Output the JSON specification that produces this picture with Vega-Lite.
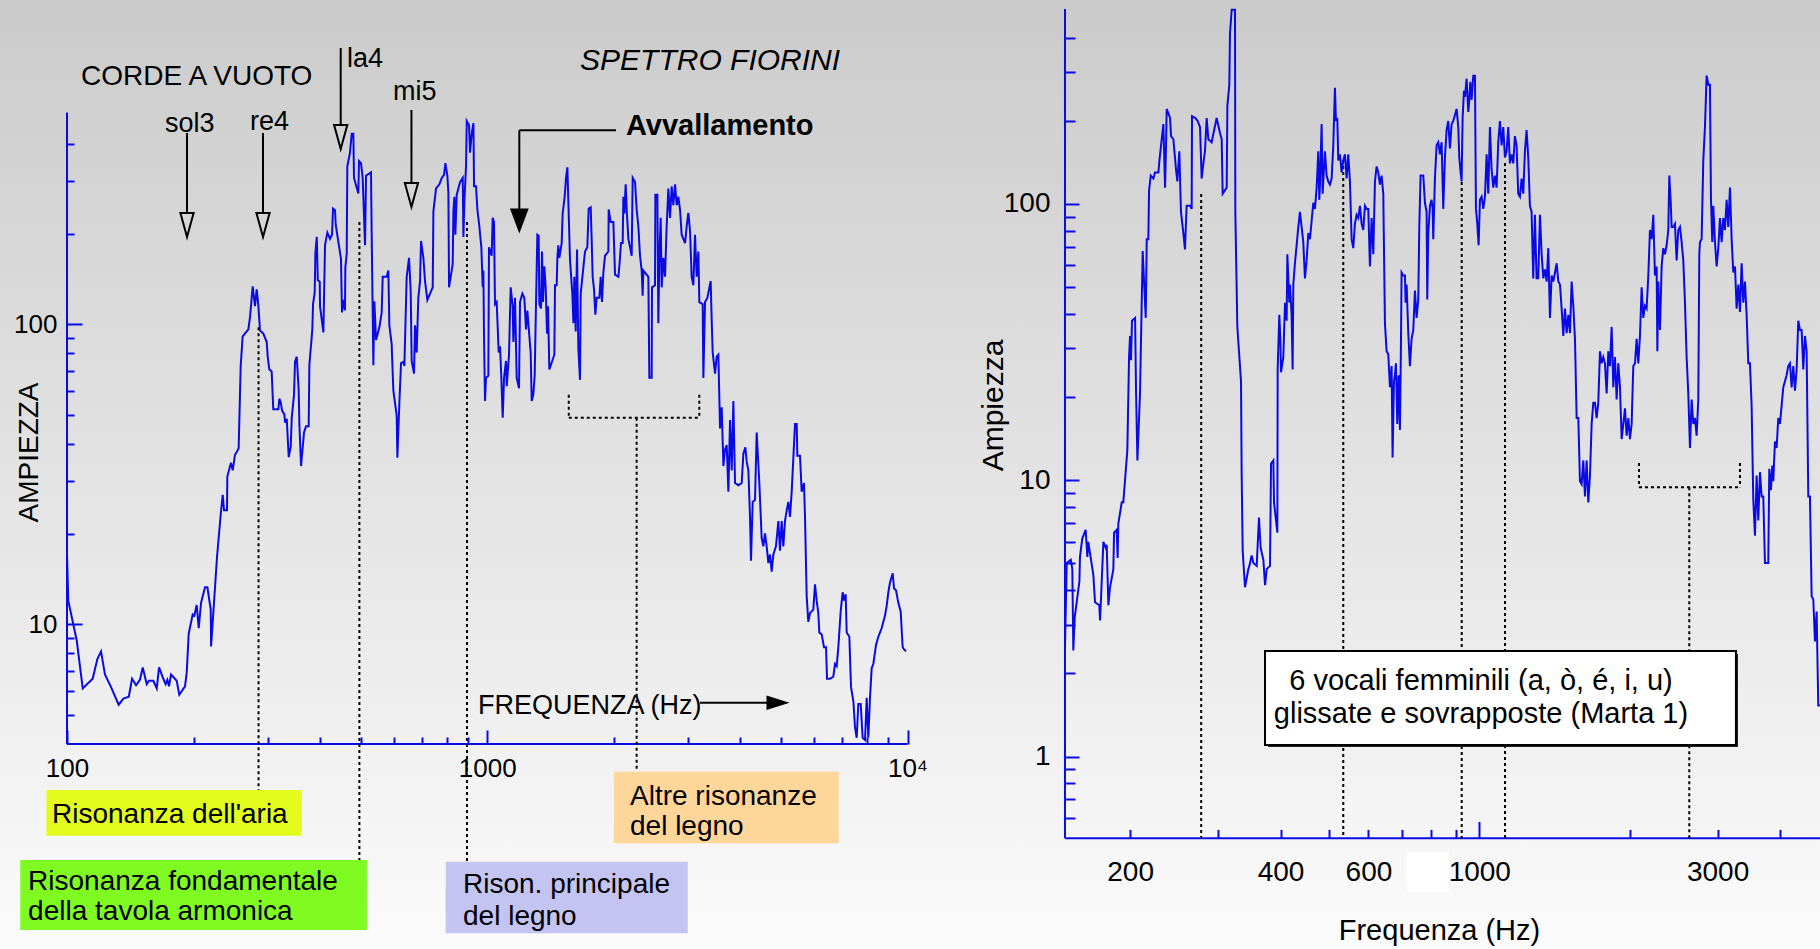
{
  "$schema": "https://vega.github.io/schema/vega-lite/v6.json",
  "width": 1820,
  "height": 949,
  "autosize": {"type": "none"},
  "padding": 0,
  "background": "#f4f4f4",
  "view": {"stroke": null, "fill": {"gradient": "linear", "x1": 0, "y1": 0, "x2": 0, "y2": 1, "stops": [{"offset": 0, "color": "#cbcbcb"}, {"offset": 1, "color": "#fbfbfb"}]}},
  "config": {"view": {"stroke": null}, "font": "Liberation Sans"},
  "datasets": {
    "L": [
      {"f":100,"a":17.1},{"f":100.7,"a":12.0},{"f":105.5,"a":8.82},{"f":109,"a":6.12},{"f":115.1,"a":6.59},{"f":118.1,"a":7.67},{"f":120.5,"a":8.13},{"f":123.1,"a":6.81},{"f":127.3,"a":6.18},{"f":132.7,"a":5.40},{"f":136.2,"a":5.66},{"f":140.3,"a":5.74},{"f":142.8,"a":6.59},{"f":146,"a":6.27},{"f":149.2,"a":6.55},{"f":151.4,"a":7.19},{"f":154.8,"a":6.32},{"f":156.7,"a":6.49},{"f":160.5,"a":6.49},{"f":163.5,"a":6.12},{"f":165.6,"a":7.19},{"f":169.5,"a":6.59},{"f":171.7,"a":6.32},{"f":173.3,"a":6.53},{"f":174.9,"a":6.22},{"f":176.8,"a":6.81},{"f":182.4,"a":6.49},{"f":185,"a":5.83},{"f":190.9,"a":6.22},{"f":192.7,"a":6.92},{"f":194.8,"a":9.31},{"f":199.1,"a":10.8},{"f":200.9,"a":10.7},{"f":203.5,"a":11.6},{"f":205.8,"a":9.71},{"f":208.4,"a":11.8},{"f":213,"a":13.3},{"f":215.8,"a":13.3},{"f":219.8,"a":11.2},{"f":220.2,"a":8.45},{"f":222.9,"a":10.9},{"f":227.5,"a":16.8},{"f":232.1,"a":23.2},{"f":234.7,"a":27.0},{"f":236.4,"a":24.0},{"f":240.3,"a":24.0},{"f":240.7,"a":31.1},{"f":245.6,"a":34.6},{"f":247.9,"a":32.6},{"f":251,"a":36.7},{"f":256.1,"a":38.6},{"f":259,"a":72.6},{"f":261.8,"a":91.1},{"f":270.1,"a":96.2},{"f":272.6,"a":105.9},{"f":276.6,"a":133.7},{"f":280.1,"a":114.9},{"f":282.7,"a":130.7},{"f":285.3,"a":115.6},{"f":287.9,"a":95.3},{"f":293.2,"a":93.1},{"f":298.7,"a":87.3},{"f":300.3,"a":78.0},{"f":302.9,"a":70.8},{"f":306.9,"a":69.6},{"f":309.6,"a":52.1},{"f":318.4,"a":52.1},{"f":320.1,"a":56.5},{"f":322.5,"a":55.0},{"f":324.9,"a":51.6},{"f":329,"a":50.1},{"f":330.3,"a":47.0},{"f":333.3,"a":48.4},{"f":337,"a":36.1},{"f":340.7,"a":39.2},{"f":342.6,"a":48.8},{"f":346.9,"a":58.3},{"f":348.8,"a":75.0},{"f":352.1,"a":78.0},{"f":355.9,"a":60.2},{"f":357.2,"a":46.5},{"f":360.5,"a":33.7},{"f":366.4,"a":43.6},{"f":370.5,"a":45.7},{"f":375.9,"a":45.7},{"f":377.3,"a":73.1},{"f":383.5,"a":96.2},{"f":385,"a":116.8},{"f":388.5,"a":127.4},{"f":389.9,"a":172},{"f":392.9,"a":195.7},{"f":395.1,"a":140.4},{"f":399.4,"a":138.6},{"f":400,"a":114.9},{"f":407.4,"a":94.0},{"f":411.1,"a":183.5},{"f":416.4,"a":202.1},{"f":422.5,"a":192.6},{"f":427.2,"a":198.9},{"f":429.5,"a":243},{"f":434.2,"a":239.9},{"f":435.8,"a":215.6},{"f":448.7,"a":164.9},{"f":451.2,"a":109.5},{"f":454.5,"a":120.6},{"f":458.6,"a":111.3},{"f":459.5,"a":154.6},{"f":463,"a":172},{"f":464.5,"a":335.7},{"f":471.4,"a":373.4},{"f":475.8,"a":431.5},{"f":480.1,"a":431.5},{"f":481.9,"a":307.5},{"f":493.4,"a":273.1},
      {"f":495.3,"a":350.0},{"f":500.7,"a":344.2},{"f":505.3,"a":307.5},{"f":511.9,"a":183.4},{"f":514.7,"a":312.5},{"f":528.9,"a":320.8},{"f":530.9,"a":198.8},{"f":535.8,"a":73.1},{"f":538.7,"a":119.4},{"f":543.7,"a":88.7},{"f":553.7,"a":97.7},{"f":560.8,"a":109.4},{"f":563.9,"a":144.0},{"f":576.3,"a":144.0},{"f":581.6,"a":151.1},{"f":584.8,"a":99.3},{"f":592.3,"a":85.9},{"f":594.5,"a":74.2},{"f":597.8,"a":60.2},{"f":608.8,"a":49.6},{"f":611.1,"a":35.9},{"f":617.8,"a":54.7},{"f":623.5,"a":74.2},{"f":631.5,"a":75.0},{"f":635,"a":72.6},{"f":643.1,"a":144.0},{"f":651.4,"a":166.5},{"f":657.4,"a":128.6},{"f":660.9,"a":75.5},{"f":669.5,"a":68.5},{"f":673.2,"a":99.3},{"f":679.3,"a":80.5},{"f":685.5,"a":122.5},{"f":691.9,"a":139.3},{"f":695.7,"a":189.5},{"f":704.7,"a":166.5},{"f":711.1,"a":139.3},{"f":720.2,"a":120.6},{"f":741.7,"a":132.8},{"f":744.4,"a":237.4},{"f":755.3,"a":283.6},{"f":769.3,"a":292.8},{"f":779.2,"a":307.5},{"f":789.2,"a":314.6},{"f":794.9,"a":344.2},{"f":803.7,"a":312.5},{"f":808.2,"a":274.6},{"f":811.1,"a":132.8},{"f":827.5,"a":158.6},{"f":830.6,"a":237.4},{"f":835.2,"a":266.0},{"f":839.7,"a":198.8},{"f":846,"a":270.2},{"f":861.5,"a":297.7},{"f":874.3,"a":307.5},{"f":877.5,"a":195.6},{"f":882.3,"a":257.5},{"f":890.4,"a":338.9},{"f":893.7,"a":475.5},{"f":905,"a":460.4},{"f":909.9,"a":373.2},{"f":918.3,"a":431.6},{"f":927,"a":467.9},{"f":930.2,"a":288.3},{"f":940.3,"a":288.3},{"f":947.3,"a":241.3},{"f":957.6,"a":212.2},{"f":968.2,"a":180.5},{"f":975.4,"a":132.8},{"f":979,"a":151.1},{"f":982.4,"a":91.6},{"f":987.7,"a":55.5},{"f":993.2,"a":66.3},{"f":1006,"a":67.4},{"f":1009.5,"a":180.5},{"f":1024.5,"a":169.2},{"f":1030.2,"a":226.3},{"f":1037.6,"a":219.1},{"f":1043.4,"a":116.7},{"f":1053,"a":118.6},{"f":1064.7,"a":80.5},{"f":1072.4,"a":84.5},{"f":1078.4,"a":70.7},{"f":1088.4,"a":48.8},{"f":1096.3,"a":66.3},{"f":1108.2,"a":75.5},{"f":1112.6,"a":62.2},{"f":1126.6,"a":79.2},{"f":1136.9,"a":132.8},{"f":1149.6,"a":114.9},{"f":1153.8,"a":87.3},{"f":1164.3,"a":122.5},{"f":1175,"a":66.3},{"f":1190,"a":61.2},{"f":1196.6,"a":118.6},{"f":1212.1,"a":126.5},{"f":1225.3,"a":122.5},{"f":1236.6,"a":96.1},{"f":1245.7,"a":111.2},{"f":1254.7,"a":97.7},{"f":1268.6,"a":80.5},{"f":1275.7,"a":55.5},{"f":1287.1,"a":58.3},{"f":1296.7,"a":67.4},{"f":1303.9,"a":102.6},{"f":1315.9,"a":198.8},{"f":1325.4,"a":197.4},{"f":1330.3,"a":116.7},{"f":1342.6,"a":113.0},{"f":1350,"a":174.8},{"f":1357.2,"a":118.6},{"f":1367.2,"a":156.1},{"f":1377.3,"a":132.8},{"f":1387.5,"a":93.1},{"f":1394.9,"a":114.9},{"f":1405.3,"a":70.7},{"f":1444.2,"a":79.2},{"f":1449.5,"a":135.0},{"f":1463,"a":135.0},{"f":1468.3,"a":166.5},{"f":1476.1,"a":183.4},{"f":1484.3,"a":166.5},{"f":1503.5,"a":186.5},{"f":1511.5,"a":233.7},{"f":1528.3,"a":266.0},{"f":1539.6,"a":307.5},{"f":1551.1,"a":333.4},{"f":1559.3,"a":257.5},{"f":1573.8,"a":163.8},{"f":1593.8,"a":126.5},{"f":1603.6,"a":100.9},{"f":1611.5,"a":144.0},{"f":1623.5,"a":94.6},{"f":1635.4,"a":177.6},{"f":1647.2,"a":83.2},{"f":1662.4,"a":65.3},{"f":1668.5,"a":126.5},{"f":1708.5,"a":174.8},{"f":1730.3,"a":180.5},{"f":1743.2,"a":242.9},{"f":1762.5,"a":245.3},{"f":1771.9,"a":192.5},{"f":1781.7,"a":144.0},{"f":1794.9,"a":130.7},{"f":1808.2,"a":107.7},{"f":1821.1,"a":122.5},{"f":1848.2,"a":122.5},{"f":1861.8,"a":144.0},{"f":1875.2,"a":118.6},{"f":1889.1,"a":148.7},{"f":1906.6,"a":169.2},{"f":1941.5,"a":174.8},{"f":1945.1,"a":241.3},{"f":1966.8,"a":219.1},{"f":1995.5,"a":219.1},{"f":2014,"a":146.3},{"f":2051,"a":144.0},{"f":2062.4,"a":156.1},{"f":2081,"a":186.5},{"f":2100.3,"a":186.5},{"f":2108,"a":266.0},{"f":2119.7,"a":233.7},{"f":2134.9,"a":292.8},{"f":2146.8,"a":241.3},{"f":2166.6,"a":192.5},{"f":2186.7,"a":180.5},{"f":2206.3,"a":169.2},{"f":2218.6,"a":307.5},{"f":2247.1,"a":297.7},{"f":2267.4,"a":241.3},{"f":2288.4,"a":212.2},
      {"f":2309.3,"a":169.2},{"f":2330.6,"a":151.1},{"f":2343.4,"a":124.5},{"f":2351.7,"a":151.1},{"f":2417.3,"a":144.0},{"f":2430.6,"a":66.3},{"f":2461.8,"a":66.3},{"f":2466,"a":132.8},{"f":2507.1,"a":135.0},{"f":2511.9,"a":270.2},{"f":2539.4,"a":270.2},{"f":2553.3,"a":100.9},{"f":2567.6,"a":166.5},{"f":2586.4,"a":226.3},{"f":2600.5,"a":132.8},{"f":2624.1,"a":166.5},{"f":2648.3,"a":144.0},{"f":2672.5,"a":212.2},{"f":2697.1,"a":283.6},{"f":2722.0,"a":226.3},{"f":2746.8,"a":288.3},{"f":2772.2,"a":249.3},{"f":2798.1,"a":292.8},{"f":2823.4,"a":249.3},{"f":2849.2,"a":266.0},{"f":2875.5,"a":241.3},{"f":2901.6,"a":198.8},{"f":2955.6,"a":186.5},{"f":2982.3,"a":212.2},{"f":3009.2,"a":235.2},{"f":3037.3,"a":205.4},{"f":3064.6,"a":144.0},{"f":3093.2,"a":135.0},{"f":3121.6,"a":198.8},{"f":3149.9,"a":144.0},{"f":3179.1,"a":174.8},{"f":3196.5,"a":118.6},{"f":3255.5,"a":116.7},{"f":3267.7,"a":66.3},{"f":3297.7,"a":118.6},{"f":3339.9,"a":122.5},{"f":3401.2,"a":139.3},{"f":3419.8,"a":104.2},{"f":3439.3,"a":80.5},{"f":3483.8,"a":68.5},{"f":3514.6,"a":78.0},{"f":3547.3,"a":79.2},{"f":3580.4,"a":45.0},{"f":3613.3,"a":52.9},{"f":3646.6,"a":33.7},{"f":3679.6,"a":38.3},{"f":3713.5,"a":39.6},{"f":3747.6,"a":27.7},{"f":3781.8,"a":48.0},{"f":3816.6,"a":32.6},{"f":3851.6,"a":55.5},{"f":3886.8,"a":29.6},{"f":3959.0,"a":29.1},{"f":4031.6,"a":29.6},{"f":4069.0,"a":37.1},{"f":4113.1,"a":38.9},{"f":4144.4,"a":34.8},{"f":4181.6,"a":32.6},{"f":4219.5,"a":22.8},{"f":4242.0,"a":16.3},{"f":4281.8,"a":25.6},{"f":4336.4,"a":26.0},{"f":4376.6,"a":43.6},{"f":4440.5,"a":29.6},{"f":4498.0,"a":19.4},{"f":4539.7,"a":18.2},{"f":4580.2,"a":20.1},{"f":4622.7,"a":18.2},{"f":4665.3,"a":16.0},{"f":4707.7,"a":17.1},{"f":4751.0,"a":15.0},{"f":4795.3,"a":17.1},{"f":4864.2,"a":18.2},{"f":4928.3,"a":22.1},{"f":4973.1,"a":17.6},{"f":5018.6,"a":22.1},{"f":5064.9,"a":18.2},{"f":5110.7,"a":22.1},{"f":5158.5,"a":24.0},{"f":5206.3,"a":25.6},{"f":5253.3,"a":22.8},{"f":5301.9,"a":27.7},{"f":5399.0,"a":46.5},{"f":5448.9,"a":46.5},{"f":5468.7,"a":36.5},{"f":5548.8,"a":36.5},{"f":5600.1,"a":27.7},{"f":5671.5,"a":29.6},{"f":5703.0,"a":22.8},{"f":5755.8,"a":12.4},{"f":5807.3,"a":10.2},{"f":5861.1,"a":10.9},{"f":5968.8,"a":11.2},{"f":6024.0,"a":13.6},{"f":6079.7,"a":12.0},{"f":6134.5,"a":10.9},{"f":6168.9,"a":9.40},{"f":6249.6,"a":9.25},{"f":6329.1,"a":8.39},{"f":6399.4,"a":8.39},{"f":6434.2,"a":6.59},{"f":6540.2,"a":6.59},{"f":6660.4,"a":6.70},{"f":6721.9,"a":7.38},{"f":6784.2,"a":7.26},{"f":6845.2,"a":8.39},{"f":6934.2,"a":11.05},{"f":7009.3,"a":12.8},{"f":7061.3,"a":12.0},{"f":7126.7,"a":12.6},{"f":7166.2,"a":9.40},{"f":7271.1,"a":9.10},{"f":7338.4,"a":6.18},{"f":7436.1,"a":5.52},{"f":7500.4,"a":4.54},{"f":7569.8,"a":4.19},{"f":7638.3,"a":5.43},{"f":7737.4,"a":5.43},{"f":7821.7,"a":4.19},{"f":7922.9,"a":4.12},{"f":7996.3,"a":5.70},{"f":8068.3,"a":4.19},{"f":8143.0,"a":5.70},{"f":8216.7,"a":7.14},{"f":8292.7,"a":7.38},{"f":8414.2,"a":8.53},{"f":8523.2,"a":9.10},{"f":8602.1,"a":9.40},{"f":8679.5,"a":9.71},{"f":8760.0,"a":10.2},{"f":8841.1,"a":10.7},{"f":8926.1,"a":11.6},{"f":9003.4,"a":12.8},{"f":9086.8,"a":13.8},{"f":9219.7,"a":14.8},{"f":9287.4,"a":13.2},{"f":9388.6,"a":13.0},{"f":9510.9,"a":11.8},{"f":9632.6,"a":11.05},{"f":9739.6,"a":8.39},{"f":9811.6,"a":8.26},{"f":9918.4,"a":8.13}
    ],
    "R": [
      {"f":148.1,"a":2.48},{"f":149.3,"a":5.02},{"f":152.1,"a":5.15},{"f":153.2,"a":4.77},{"f":153.9,"a":2.42},{"f":154.9,"a":3.19},{"f":158.3,"a":4.31},{"f":158.7,"a":5.28},{"f":160.4,"a":6.15},{"f":162.9,"a":6.62},{"f":164.2,"a":5.28},{"f":164.9,"a":5.99},{"f":168.8,"a":4.54},{"f":170.1,"a":3.62},{"f":173.5,"a":3.53},{"f":174.1,"a":3.11},{"f":176.8,"a":5.99},{"f":178.7,"a":5.70},{"f":179.5,"a":5.84},{"f":180.9,"a":3.53},{"f":182.3,"a":4.10},{"f":185.1,"a":4.77},{"f":185.7,"a":6.46},{"f":188.0,"a":6.62},{"f":188.8,"a":5.23},{"f":189.4,"a":6.97},{"f":192.4,"a":8.32},{"f":193.8,"a":8.32},{"f":197.4,"a":12.8},{"f":199.0,"a":27.9},{"f":199.9,"a":33.3},{"f":200.8,"a":27.2},{"f":201.7,"a":37.8},{"f":204.6,"a":38.7},{"f":205.5,"a":21.1},{"f":206.8,"a":11.8},{"f":209.3,"a":20.6},{"f":211.9,"a":67.5},{"f":214.9,"a":38.7},{"f":215.9,"a":74.6},{"f":217.5,"a":74.6},{"f":218.2,"a":111.7},{"f":219.9,"a":126.7},{"f":222.6,"a":123.6},{"f":224.3,"a":130.0},{"f":227.8,"a":130.0},{"f":228.9,"a":143.8},{"f":233.1,"a":194.6},{"f":234.9,"a":114.6},{"f":236.0,"a":163.0},{"f":236.7,"a":220.8},{"f":240.4,"a":204.7},{"f":241.5,"a":176.0},{"f":244.1,"a":171.5},{"f":247.1,"a":133.3},{"f":248.6,"a":120.6},{"f":250.9,"a":155.2},{"f":252.8,"a":93.6},{"f":255.6,"a":78.5},{"f":257.5,"a":68.5},{"f":259.5,"a":98.5},{"f":263.6,"a":98.5},{"f":265.6,"a":96.0},{"f":266.0,"a":207.8},{"f":270.1,"a":204.7},{"f":273.0,"a":199.7},{"f":276.0,"a":189.8},{"f":278.1,"a":123.6},{"f":280.3,"a":140.2},{"f":282.4,"a":155.2},{"f":284.6,"a":204.7},{"f":286.8,"a":171.5},{"f":291.2,"a":167.3},{"f":298.0,"a":204.7},{"f":302.7,"a":180.4},{"f":305.0,"a":171.5},{"f":306.4,"a":108.9},{"f":312.1,"a":114.6},{"f":313.1,"a":226.4},{"f":315.9,"a":270.1},{"f":316.9,"a":414.7},{"f":319.4,"a":505},{"f":324.3,"a":505},{"f":324.8,"a":93.6},{"f":327.8,"a":35.9},{"f":333.4,"a":22.8},{"f":334.4,"a":10.7},{"f":336.0,"a":5.56},{"f":339.6,"a":4.10},{"f":344.9,"a":4.77},{"f":346.5,"a":4.90},{"f":350.2,"a":5.34},{"f":352.9,"a":5.02},{"f":358.4,"a":4.90},{"f":362.2,"a":7.33},{"f":365.0,"a":5.70},{"f":369.6,"a":5.15},{"f":372.5,"a":4.17},{"f":375.3,"a":4.77},{"f":381.1,"a":4.90},{"f":382.9,"a":11.5},{"f":387.0,"a":11.8},{"f":388.2,"a":8.32},{"f":394.2,"a":6.46},{"f":394.8,"a":25.2},{"f":397.8,"a":39.7},{"f":399.7,"a":32.5},{"f":400.9,"a":24.6},{"f":405.2,"a":27.9},{"f":408.4,"a":43.9},{"f":411.5,"a":37.8},{"f":412.8,"a":65.8},{"f":416.6,"a":43.9},
      {"f":417.8,"a":51.1},{"f":421.0,"a":39.7},{"f":423.0,"a":25.2},{"f":424.3,"a":51.1},{"f":427.5,"a":61.0},{"f":434.2,"a":82.5},{"f":437.5,"a":93.6},{"f":440.9,"a":82.5},{"f":444.3,"a":72.8},{"f":447.7,"a":53.8},{"f":451.2,"a":62.5},{"f":454.7,"a":78.5},{"f":458.2,"a":74.6},{"f":461.7,"a":86.8},{"f":465.3,"a":101.0},{"f":468.8,"a":96.0},{"f":472.5,"a":114.6},{"f":476.1,"a":155.2},{"f":478.3,"a":103.5},{"f":479.8,"a":117.5},{"f":483.5,"a":194.6},{"f":485.7,"a":108.9},{"f":487.2,"a":120.6},{"f":490.9,"a":155.2},{"f":494.7,"a":126.7},{"f":498.5,"a":120.6},{"f":502.4,"a":117.5},{"f":506.3,"a":123.6},{"f":510.2,"a":163.0},{"f":514.1,"a":263.4},{"f":516.5,"a":199.7},{"f":519.7,"a":204.7},{"f":522.1,"a":143.8},{"f":526.1,"a":151.2},{"f":530.2,"a":130.0},{"f":534.2,"a":143.8},{"f":538.4,"a":151.2},{"f":542.5,"a":123.6},{"f":546.7,"a":151.2},{"f":550.9,"a":120.6},{"f":555.2,"a":74.6},{"f":559.4,"a":69.2},{"f":563.7,"a":84.7},{"f":568.1,"a":91.3},{"f":572.5,"a":89.0},{"f":576.9,"a":98.5},{"f":581.4,"a":84.7},{"f":585.8,"a":80.5},{"f":590.4,"a":98.5},{"f":594.9,"a":96.0},{"f":599.5,"a":96.0},{"f":604.1,"a":59.4},{"f":608.8,"a":89.0},{"f":613.5,"a":65.8},{"f":618.2,"a":120.6},{"f":623.0,"a":136.7},{"f":627.8,"a":130.0},{"f":632.6,"a":117.5},{"f":637.5,"a":126.7},{"f":642.4,"a":108.9},{"f":647.4,"a":36.8},{"f":652.4,"a":29.3},{"f":657.4,"a":28.6},{"f":662.5,"a":21.7},{"f":667.6,"a":25.9},{"f":670.6,"a":12.1},{"f":674.8,"a":22.8},{"f":677.9,"a":24.0},{"f":681.0,"a":26.5},{"f":685.2,"a":16.0},{"f":689.4,"a":24.0},{"f":693.7,"a":15.2},{"f":696.9,"a":30.9},{"f":699.0,"a":56.5},{"f":704.4,"a":55.1},{"f":709.9,"a":55.1},{"f":712.0,"a":43.9},{"f":715.4,"a":51.1},{"f":720.9,"a":34.1},{"f":726.4,"a":25.9},{"f":732.0,"a":32.5},{"f":737.7,"a":35.0},{"f":743.4,"a":48.6},{"f":749.1,"a":38.7},{"f":754.9,"a":45.1},{"f":758.4,"a":82.5},{"f":763.0,"a":126.7},{"f":772.5,"a":126.7},{"f":778.4,"a":101.0},{"f":784.4,"a":93.6},{"f":786.8,"a":45.1},{"f":790.5,"a":78.5},{"f":796.6,"a":98.5},{"f":802.7,"a":103.5},{"f":806.4,"a":96.0},{"f":808.9,"a":74.6},{"f":815.1,"a":123.6},{"f":821.4,"a":163.0},{"f":827.8,"a":167.3},{"f":834.2,"a":151.2},{"f":840.6,"a":167.3},{"f":847.1,"a":96.0},{"f":853.6,"a":147.4},{"f":860.2,"a":185.0},{"f":866.8,"a":199.7},{"f":873.5,"a":159.0},{"f":880.2,"a":194.6},{"f":887.0,"a":199.7},{"f":893.9,"a":209.9},{"f":900.8,"a":220.8},{"f":907.8,"a":189.8},{"f":911.9,"a":147.4},{"f":917.6,"a":130.0},{"f":921.8,"a":120.6},{"f":926.1,"a":204.7},{"f":931.8,"a":256.9},{"f":936.1,"a":244.2},{"f":943.3,"a":284.1},{"f":950.6,"a":215.2},{"f":955.0,"a":238.1},{"f":959.4,"a":277.0},{"f":965.3,"a":238.1},{"f":972.7,"a":291.4},{"f":980.3,"a":291.4},{"f":984.8,"a":96.0},{"f":990.9,"a":84.7},{"f":997.0,"a":70.9},{"f":1003.1,"a":103.5},{"f":1010.9,"a":106.2},{"f":1018.6,"a":96.0},{"f":1026.5,"a":106.2},{"f":1034.4,"a":151.2},{"f":1042.4,"a":108.9},{"f":1050.4,"a":189.8},{"f":1058.5,"a":133.3},{"f":1066.7,"a":114.6},{"f":1074.9,"a":126.7},{"f":1083.2,"a":114.6},{"f":1091.5,"a":167.3},{"f":1099.9,"a":199.7},{"f":1108.4,"a":163.0},{"f":1116.9,"a":189.8},{"f":1125.6,"a":147.4},{"f":1134.2,"a":155.2},{"f":1143.0,"a":189.8},{"f":1151.8,"a":140.2},{"f":1160.7,"a":151.2},{"f":1169.6,"a":140.2},{"f":1178.6,"a":176.0},{"f":1187.7,"a":163.0},{"f":1196.9,"a":108.9},{"f":1206.1,"a":106.2},{"f":1215.4,"a":123.6},{"f":1224.8,"a":108.9},{"f":1234.2,"a":155.2},{"f":1243.7,"a":185.0},{"f":1253.3,"a":147.4},{"f":1263.0,"a":98.5},{"f":1272.7,"a":93.6},{"f":1282.5,"a":53.8},{"f":1292.4,"a":91.3},{"f":1302.3,"a":53.8},{"f":1312.4,"a":53.8},
      {"f":1322.9,"a":91.3},{"f":1333.1,"a":65.8},{"f":1343.4,"a":53.8},{"f":1353.7,"a":58.0},{"f":1364.2,"a":52.4},{"f":1374.7,"a":69.2},{"f":1385.3,"a":38.7},{"f":1396.0,"a":55.1},{"f":1406.8,"a":52.4},{"f":1417.7,"a":56.5},{"f":1428.6,"a":61.0},{"f":1439.6,"a":52.4},{"f":1450.7,"a":51.1},{"f":1461.9,"a":41.8},{"f":1473.2,"a":33.3},{"f":1484.5,"a":41.8},{"f":1496.0,"a":34.1},{"f":1507.5,"a":39.7},{"f":1519.1,"a":34.1},{"f":1530.8,"a":52.4},{"f":1542.6,"a":42.8},{"f":1554.5,"a":32.5},{"f":1566.5,"a":16.8},{"f":1578.6,"a":16.8},{"f":1590.7,"a":9.92},{"f":1603.0,"a":9.68},{"f":1615.4,"a":11.8},{"f":1627.8,"a":8.74},{"f":1640.4,"a":11.8},{"f":1653.0,"a":8.32},{"f":1665.9,"a":10.4},{"f":1678.6,"a":16.0},{"f":1691.5,"a":19.1},{"f":1704.6,"a":19.1},{"f":1717.8,"a":16.8},{"f":1731.0,"a":19.1},{"f":1744.3,"a":29.3},{"f":1757.8,"a":26.5},{"f":1771.3,"a":27.9},{"f":1785.0,"a":26.5},{"f":1798.9,"a":20.6},{"f":1812.8,"a":29.3},{"f":1826.7,"a":25.9},{"f":1840.8,"a":35.9},{"f":1855.0,"a":21.7},{"f":1869.3,"a":27.9},{"f":1883.8,"a":19.6},{"f":1898.3,"a":26.5},{"f":1912.9,"a":21.7},{"f":1927.7,"a":14.1},{"f":1942.6,"a":16.0},{"f":1957.5,"a":18.2},{"f":1972.6,"a":14.5},{"f":1987.8,"a":16.8},{"f":2003.1,"a":14.1},{"f":2018.6,"a":16.0},{"f":2034.1,"a":25.9},{"f":2049.8,"a":26.5},{"f":2065.6,"a":32.5},{"f":2081.5,"a":26.5},{"f":2097.6,"a":33.3},{"f":2113.7,"a":49.9},{"f":2130.0,"a":38.7},{"f":2146.5,"a":42.8},{"f":2163.0,"a":41.8},{"f":2179.8,"a":55.1},{"f":2196.5,"a":80.5},{"f":2213.4,"a":74.6},{"f":2230.5,"a":91.3},{"f":2247.7,"a":55.1},{"f":2265.1,"a":59.4},{"f":2272.6,"a":29.3},{"f":2282.5,"a":52.4},{"f":2300.2,"a":35.0},{"f":2317.9,"a":59.4},{"f":2335.7,"a":69.2},{"f":2353.8,"a":65.8},{"f":2371.9,"a":70.9},{"f":2390.2,"a":80.5},{"f":2401.3,"a":126.7},{"f":2416.0,"a":103.5},{"f":2427.2,"a":82.5},{"f":2445.9,"a":82.5},{"f":2464.8,"a":84.7},{"f":2483.8,"a":62.5},{"f":2503.0,"a":80.5},{"f":2522.3,"a":82.5},{"f":2541.7,"a":72.8},{"f":2561.3,"a":62.5},{"f":2581.1,"a":43.9},{"f":2601.0,"a":27.9},{"f":2621.0,"a":20.6},{"f":2641.3,"a":13.1},{"f":2661.7,"a":19.6},{"f":2682.1,"a":16.0},{"f":2702.9,"a":16.8},{"f":2723.7,"a":14.5},{"f":2744.7,"a":19.6},{"f":2757.4,"a":65.8},{"f":2765.8,"a":72.8},{"f":2787.2,"a":74.6},{"f":2808.6,"a":143.8},{"f":2830.3,"a":189.8},{"f":2852.2,"a":291.4},{"f":2874.3,"a":270.1},{"f":2896.4,"a":270.1},{"f":2909.9,"a":103.5},{"f":2927.7,"a":72.8},{"f":2941.3,"a":98.5},{"f":2964.0,"a":72.8},{"f":2986.9,"a":59.4},{"f":3009.9,"a":69.2},{"f":3033.1,"a":89.0},{"f":3056.5,"a":72.8},{"f":3080.0,"a":89.0},{"f":3103.8,"a":80.5},{"f":3127.8,"a":103.5},{"f":3152.0,"a":82.5},{"f":3176.3,"a":114.6},{"f":3200.8,"a":74.6},{"f":3225.4,"a":56.5},{"f":3250.3,"a":59.4},{"f":3275.4,"a":41.8},{"f":3300.5,"a":51.1},{"f":3325.9,"a":40.7},{"f":3351.6,"a":61.0},{"f":3377.4,"a":43.9},{"f":3403.5,"a":52.4},{"f":3429.7,"a":39.7},{"f":3456.1,"a":26.5},{"f":3482.8,"a":26.5},{"f":3509.6,"a":18.6},{"f":3536.6,"a":8.53},{"f":3563.9,"a":6.30},{"f":3591.4,"a":10.4},{"f":3619.1,"a":7.15},{"f":3647.0,"a":10.7},{"f":3675.1,"a":8.74},{"f":3703.4,"a":8.74},{"f":3732.0,"a":5.02},{"f":3789.7,"a":5.02},{"f":3807.3,"a":11.0},{"f":3836.5,"a":9.20},{"f":3860.2,"a":11.3},{"f":3878.2,"a":9.92},{"f":3908.0,"a":13.8},{"f":3938.2,"a":13.1},{"f":3968.4,"a":16.8},{"f":3999.0,"a":16.0},{"f":4029.8,"a":18.6},{"f":4060.9,"a":21.7},{"f":4092.2,"a":22.8},{"f":4123.7,"a":24.0},{"f":4155.4,"a":25.9},{"f":4188.2,"a":26.5},{"f":4220.4,"a":21.7},{"f":4252.9,"a":25.9},{"f":4285.7,"a":21.1},{"f":4318.8,"a":25.2},{"f":4352.0,"a":37.8},{"f":4385.6,"a":35.0},{"f":4419.4,"a":35.0},{"f":4453.4,"a":25.2},{"f":4487.7,"a":33.3},{"f":4522.6,"a":29.3},{"f":4557.4,"a":8.74},{"f":4592.6,"a":8.74},{"f":4628.0,"a":3.80},{"f":4663.6,"a":3.71},{"f":4699.6,"a":2.61},{"f":4735.8,"a":3.35},{"f":4772.2,"a":1.53},{"f":4809.0,"a":1.53}
    ],
    "LAxis": [{"f1":100,"a1":3.996,"f2":100,"a2":507.5},{"f1":100,"a1":3.996,"f2":10000,"a2":3.996}],
    "LDots": [
      {"f1":285.6,"a1":97.7,"f2":285.6,"a2":2.807},
      {"f1":496.3,"a1":219.2,"f2":496.3,"a2":1.641},
      {"f1":894.9,"a1":219.2,"f2":894.9,"a2":1.62},
      {"f1":1563,"a1":48.8,"f2":3196,"a2":48.8},
      {"f1":1563,"a1":58.3,"f2":1563,"a2":48.8},
      {"f1":3196,"a1":58.3,"f2":3196,"a2":48.8},
      {"f1":2267,"a1":48.8,"f2":2267,"a2":3.23}
    ],
    "LShafts": [
      {"f1":193.0,"a1":434.0,"f2":193.0,"a2":234.9},
      {"f1":292.7,"a1":434.0,"f2":292.7,"a2":234.9},
      {"f1":448.0,"a1":833.1,"f2":448.0,"a2":461.1},
      {"f1":660.1,"a1":517.8,"f2":660.1,"a2":295.7},
      {"f1":1192,"a1":443.0,"f2":2025,"a2":443.0},
      {"f1":1192,"a1":443.0,"f2":1192,"a2":240.4},
      {"f1":3208,"a1":5.483,"f2":4656,"a2":5.483}
    ],
    "LHollow": [{"f":193.0,"a":214.2},{"f":292.7,"a":214.2},{"f":448.0,"a":420.9},{"f":660.1,"a":269.7}],
    "LAvvHead": [{"f":1192,"a":220.9}],
    "LFreqHead": [{"f":4919,"a":5.483}],
    "LBoxes": [
      {"box":"aria","f1":89.3,"f2":362.0,"a1":2.807,"a2":1.976},
      {"box":"tavola","f1":77.4,"f2":517.0,"a1":1.641,"a2":0.959},
      {"box":"legno","f1":796.2,"f2":3000.7,"a1":1.62,"a2":0.935},
      {"box":"altre","f1":2002,"f2":6860,"a1":3.23,"a2":1.865}
    ],
    "LBoxText": [
      {"t":"Risonanza dell'aria","f":92.1,"a":2.179},
      {"t":"Risonanza fondamentale","f":80.8,"a":1.303},
      {"t":"della tavola armonica","f":80.8,"a":1.035},
      {"t":"Rison. principale","f":875.6,"a":1.274},
      {"t":"del legno","f":875.6,"a":0.996},
      {"t":"Altre risonanze","f":2186,"a":2.501},
      {"t":"del legno","f":2186,"a":1.987}
    ],
    "LText28": [
      {"t":"CORDE A VUOTO","f":108.0,"a":627.0}
    ],
    "LFreqText": [
      {"t":"FREQUENZA (Hz)","f":950.6,"a":5.029}
    ],
    "LText27": [
      {"t":"la4","f":463.8,"a":720.1},
      {"t":"mi5","f":596.9,"a":558.9},
      {"t":"sol3","f":171.1,"a":437.3},
      {"t":"re4","f":272.6,"a":444.0}
    ],
    "LTitle": [{"t":"SPETTRO FIORINI","f":1662.6,"a":703.7}],
    "LAvv": [{"t":"Avvallamento","f":2138.5,"a":427.3}],
    "LYTitle": [{"t":"AMPIEZZA","f":85.5,"a":37.4}],
    "RAxis": [{"f1":148.1,"a1":0.506,"f2":148.1,"a2":507.7},{"f1":148.1,"a1":0.506,"f2":4810,"a2":0.506}],
    "RDots": [
      {"f1":277.5,"a1":108.7,"f2":277.5,"a2":0.506},
      {"f1":534.2,"a1":144.3,"f2":534.2,"a2":0.506},
      {"f1":922.2,"a1":120.2,"f2":922.2,"a2":0.506},
      {"f1":1126,"a1":140.7,"f2":1126,"a2":0.506},
      {"f1":2633,"a1":9.43,"f2":2633,"a2":0.506},
      {"f1":2088,"a1":9.43,"f2":3326,"a2":9.43},
      {"f1":2088,"a1":11.55,"f2":2088,"a2":9.43},
      {"f1":3326,"a1":11.55,"f2":3326,"a2":9.43}
    ],
    "RShadow": [{"f1":377.6,"f2":3296,"a1":2.351,"a2":1.083}],
    "RBox": [{"f1":372.4,"f2":3265,"a1":2.411,"a2":1.102}],
    "RBoxText": [
      {"t":"6 vocali femminili (a, ò, é, i, u)","f":1007.9,"a":1.742},
      {"t":"glissate e sovrapposte (Marta 1)","f":1007.9,"a":1.323}
    ],
    "RCover": [{"f1":715.6,"f2":869.7,"a1":0.4526,"a2":0.3217}],
    "RYTitle": [{"t":"Ampiezza","f":111.3,"a":18.65}],
    "RXTitle": [{"t":"Frequenza (Hz)","f":832.4,"a":0.2169}]
  },
  "layer": [
    {
      "layer": [
        {
          "data": {"name": "LAxis"},
          "mark": {"type": "rule", "color": "#0a0ae6", "strokeWidth": 2},
          "encoding": {
            "x": {"field": "f1", "type": "quantitative", "title": null, "scale": {"type": "log", "domain": [69.27, 1483700], "nice": false},
              "axis": {"orient": "bottom", "offset": -205, "zindex": 1, "domain": false, "grid": false, "title": null,
                "values": [100, 200, 300, 400, 500, 600, 700, 800, 900, 1000, 2000, 3000, 4000, 5000, 6000, 7000, 8000, 9000, 10000],
                "labelExpr": "datum.value === 100 ? '100' : datum.value === 1000 ? '1000' : datum.value === 10000 ? '10⁴' : ''",
                "labelFont": "Liberation Sans", "labelFontSize": 26, "labelColor": "#000000", "labelPadding": 25,
                "labelOverlap": false, "labelFlush": false, "labelBound": false,
                "tickColor": "#0a0ae6", "tickWidth": 2,
                "tickSize": {"condition": {"test": "datum.value === 100 || datum.value === 1000 || datum.value === 10000", "value": -14}, "value": -7}}},
            "y": {"field": "a1", "type": "quantitative", "title": null, "scale": {"type": "log", "domain": [0.8288, 1204], "nice": false},
              "axis": {"orient": "left", "offset": -67, "zindex": 1, "domain": false, "grid": false, "title": null,
                "values": [5, 6, 7, 8, 9, 10, 20, 30, 40, 50, 60, 70, 80, 90, 100, 200, 300, 400],
                "labelExpr": "datum.value === 100 ? '100' : datum.value === 10 ? '10' : ''",
                "labelFont": "Liberation Sans", "labelFontSize": 26, "labelColor": "#000000", "labelPadding": 25,
                "labelOverlap": false, "labelFlush": false, "labelBound": false,
                "tickColor": "#0a0ae6", "tickWidth": 2,
                "tickSize": {"condition": {"test": "datum.value === 10 || datum.value === 100", "value": -15}, "value": -7}}},
            "x2": {"field": "f2"},
            "y2": {"field": "a2"}
          }
        },
        {
          "data": {"name": "LDots"},
          "mark": {"type": "rule", "color": "#000000", "strokeWidth": 2, "strokeDash": [3, 3]},
          "encoding": {
            "x": {"field": "f1", "type": "quantitative", "title": null, "scale": {"type": "log", "domain": [69.27, 1483700], "nice": false}},
            "y": {"field": "a1", "type": "quantitative", "title": null, "scale": {"type": "log", "domain": [0.8288, 1204], "nice": false}},
            "x2": {"field": "f2"},
            "y2": {"field": "a2"}
          }
        },
        {
          "data": {"name": "L"},
          "mark": {"type": "line", "color": "#0a0ae6", "strokeWidth": 2},
          "encoding": {
            "x": {"field": "f", "type": "quantitative", "title": null, "scale": {"type": "log", "domain": [69.27, 1483700], "nice": false}},
            "y": {"field": "a", "type": "quantitative", "title": null, "scale": {"type": "log", "domain": [0.8288, 1204], "nice": false}}
          }
        },
        {
          "data": {"name": "LShafts"},
          "mark": {"type": "rule", "color": "#000000", "strokeWidth": 2},
          "encoding": {
            "x": {"field": "f1", "type": "quantitative", "title": null, "scale": {"type": "log", "domain": [69.27, 1483700], "nice": false}},
            "y": {"field": "a1", "type": "quantitative", "title": null, "scale": {"type": "log", "domain": [0.8288, 1204], "nice": false}},
            "x2": {"field": "f2"},
            "y2": {"field": "a2"}
          }
        },
        {
          "data": {"name": "LHollow"},
          "mark": {"type": "point", "shape": "M-0.55,-1L0.55,-1L0,1Z", "size": 576, "filled": false, "color": "#000000", "strokeWidth": 2, "opacity": 1},
          "encoding": {
            "x": {"field": "f", "type": "quantitative", "title": null, "scale": {"type": "log", "domain": [69.27, 1483700], "nice": false}},
            "y": {"field": "a", "type": "quantitative", "title": null, "scale": {"type": "log", "domain": [0.8288, 1204], "nice": false}}
          }
        },
        {
          "data": {"name": "LAvvHead"},
          "mark": {"type": "point", "shape": "M-0.75,-1L0.75,-1L0,1Z", "size": 625, "filled": true, "color": "#000000", "opacity": 1},
          "encoding": {
            "x": {"field": "f", "type": "quantitative", "title": null, "scale": {"type": "log", "domain": [69.27, 1483700], "nice": false}},
            "y": {"field": "a", "type": "quantitative", "title": null, "scale": {"type": "log", "domain": [0.8288, 1204], "nice": false}}
          }
        },
        {
          "data": {"name": "LFreqHead"},
          "mark": {"type": "point", "shape": "M-1,-0.64L1,0L-1,0.64Z", "size": 529, "filled": true, "color": "#000000", "opacity": 1},
          "encoding": {
            "x": {"field": "f", "type": "quantitative", "title": null, "scale": {"type": "log", "domain": [69.27, 1483700], "nice": false}},
            "y": {"field": "a", "type": "quantitative", "title": null, "scale": {"type": "log", "domain": [0.8288, 1204], "nice": false}}
          }
        },
        {
          "data": {"name": "LBoxes"},
          "mark": {"type": "rect", "opacity": 1},
          "encoding": {
            "x": {"field": "f1", "type": "quantitative", "title": null, "scale": {"type": "log", "domain": [69.27, 1483700], "nice": false}},
            "y": {"field": "a1", "type": "quantitative", "title": null, "scale": {"type": "log", "domain": [0.8288, 1204], "nice": false}},
            "x2": {"field": "f2"},
            "y2": {"field": "a2"},
            "color": {"field": "box", "type": "nominal", "legend": null,
              "scale": {"domain": ["aria", "tavola", "legno", "altre"], "range": ["#e4fb1e", "#80fb22", "#c4c4f2", "#ffd699"]}}
          }
        },
        {
          "data": {"name": "LBoxText"},
          "mark": {"type": "text", "font": "Liberation Sans", "fontSize": 28, "align": "left", "baseline": "alphabetic", "color": "#000000"},
          "encoding": {
            "x": {"field": "f", "type": "quantitative", "title": null, "scale": {"type": "log", "domain": [69.27, 1483700], "nice": false}},
            "y": {"field": "a", "type": "quantitative", "title": null, "scale": {"type": "log", "domain": [0.8288, 1204], "nice": false}},
            "text": {"field": "t"}
          }
        },
        {
          "data": {"name": "LText28"},
          "mark": {"type": "text", "font": "Liberation Sans", "fontSize": 28, "align": "left", "baseline": "alphabetic", "color": "#000000"},
          "encoding": {
            "x": {"field": "f", "type": "quantitative", "title": null, "scale": {"type": "log", "domain": [69.27, 1483700], "nice": false}},
            "y": {"field": "a", "type": "quantitative", "title": null, "scale": {"type": "log", "domain": [0.8288, 1204], "nice": false}},
            "text": {"field": "t"}
          }
        },
        {
          "data": {"name": "LFreqText"},
          "mark": {"type": "text", "font": "Liberation Sans", "fontSize": 27, "align": "left", "baseline": "alphabetic", "color": "#000000"},
          "encoding": {
            "x": {"field": "f", "type": "quantitative", "title": null, "scale": {"type": "log", "domain": [69.27, 1483700], "nice": false}},
            "y": {"field": "a", "type": "quantitative", "title": null, "scale": {"type": "log", "domain": [0.8288, 1204], "nice": false}},
            "text": {"field": "t"}
          }
        },
        {
          "data": {"name": "LText27"},
          "mark": {"type": "text", "font": "Liberation Sans", "fontSize": 27, "align": "left", "baseline": "alphabetic", "color": "#000000"},
          "encoding": {
            "x": {"field": "f", "type": "quantitative", "title": null, "scale": {"type": "log", "domain": [69.27, 1483700], "nice": false}},
            "y": {"field": "a", "type": "quantitative", "title": null, "scale": {"type": "log", "domain": [0.8288, 1204], "nice": false}},
            "text": {"field": "t"}
          }
        },
        {
          "data": {"name": "LTitle"},
          "mark": {"type": "text", "font": "Liberation Sans", "fontSize": 30, "fontStyle": "italic", "align": "left", "baseline": "alphabetic", "color": "#000000"},
          "encoding": {
            "x": {"field": "f", "type": "quantitative", "title": null, "scale": {"type": "log", "domain": [69.27, 1483700], "nice": false}},
            "y": {"field": "a", "type": "quantitative", "title": null, "scale": {"type": "log", "domain": [0.8288, 1204], "nice": false}},
            "text": {"field": "t"}
          }
        },
        {
          "data": {"name": "LAvv"},
          "mark": {"type": "text", "font": "Liberation Sans", "fontSize": 29, "fontWeight": "bold", "align": "left", "baseline": "alphabetic", "color": "#000000"},
          "encoding": {
            "x": {"field": "f", "type": "quantitative", "title": null, "scale": {"type": "log", "domain": [69.27, 1483700], "nice": false}},
            "y": {"field": "a", "type": "quantitative", "title": null, "scale": {"type": "log", "domain": [0.8288, 1204], "nice": false}},
            "text": {"field": "t"}
          }
        },
        {
          "data": {"name": "LYTitle"},
          "mark": {"type": "text", "font": "Liberation Sans", "fontSize": 28, "angle": 270, "align": "center", "baseline": "alphabetic", "color": "#000000"},
          "encoding": {
            "x": {"field": "f", "type": "quantitative", "title": null, "scale": {"type": "log", "domain": [69.27, 1483700], "nice": false}},
            "y": {"field": "a", "type": "quantitative", "title": null, "scale": {"type": "log", "domain": [0.8288, 1204], "nice": false}},
            "text": {"field": "t"}
          }
        }
      ]
    },
    {
      "layer": [
        {
          "data": {"name": "RAxis"},
          "mark": {"type": "rule", "color": "#0a0ae6", "strokeWidth": 2},
          "encoding": {
            "x": {"field": "f1", "type": "quantitative", "title": null, "scale": {"type": "log", "domain": [1.0925, 4810], "nice": false},
              "axis": {"orient": "bottom", "offset": -110.6, "zindex": 1, "domain": false, "grid": false, "title": null,
                "values": [200, 300, 400, 500, 600, 700, 800, 900, 1000, 2000, 3000, 4000],
                "labelExpr": "datum.value === 200 ? '200' : datum.value === 400 ? '400' : datum.value === 600 ? '600' : datum.value === 1000 ? '1000' : datum.value === 3000 ? '3000' : ''",
                "labelFont": "Liberation Sans", "labelFontSize": 28, "labelColor": "#000000",
                "labelPadding": {"condition": {"test": "datum.value === 1000", "value": 37}, "value": 29},
                "labelOverlap": false, "labelFlush": false, "labelBound": false,
                "tickColor": "#0a0ae6", "tickWidth": 2,
                "tickSize": {"condition": {"test": "datum.value === 1000", "value": -17}, "value": -9}}},
            "y": {"field": "a1", "type": "quantitative", "title": null, "scale": {"type": "log", "domain": [0.2012, 547.3], "nice": false},
              "axis": {"orient": "left", "offset": -1065, "zindex": 1, "domain": false, "grid": false, "title": null,
                "values": [0.6, 0.7, 0.8, 0.9, 1, 2, 3, 4, 5, 6, 7, 8, 9, 10, 20, 30, 40, 50, 60, 70, 80, 90, 100, 200, 300, 400],
                "labelExpr": "datum.value === 1 ? '1' : datum.value === 10 ? '10' : datum.value === 100 ? '100' : ''",
                "labelFont": "Liberation Sans", "labelFontSize": 28, "labelColor": "#000000", "labelPadding": 29,
                "labelOverlap": false, "labelFlush": false, "labelBound": false,
                "tickColor": "#0a0ae6", "tickWidth": 2,
                "tickSize": {"condition": {"test": "datum.value === 1 || datum.value === 10 || datum.value === 100", "value": -14}, "value": -10}}},
            "x2": {"field": "f2"},
            "y2": {"field": "a2"}
          }
        },
        {
          "data": {"name": "RDots"},
          "mark": {"type": "rule", "color": "#000000", "strokeWidth": 2, "strokeDash": [3, 3]},
          "encoding": {
            "x": {"field": "f1", "type": "quantitative", "title": null, "scale": {"type": "log", "domain": [1.0925, 4810], "nice": false}},
            "y": {"field": "a1", "type": "quantitative", "title": null, "scale": {"type": "log", "domain": [0.2012, 547.3], "nice": false}},
            "x2": {"field": "f2"},
            "y2": {"field": "a2"}
          }
        },
        {
          "data": {"name": "R"},
          "mark": {"type": "line", "color": "#0a0ae6", "strokeWidth": 2},
          "encoding": {
            "x": {"field": "f", "type": "quantitative", "title": null, "scale": {"type": "log", "domain": [1.0925, 4810], "nice": false}},
            "y": {"field": "a", "type": "quantitative", "title": null, "scale": {"type": "log", "domain": [0.2012, 547.3], "nice": false}}
          }
        },
        {
          "data": {"name": "RShadow"},
          "mark": {"type": "rect", "color": "#222222", "opacity": 1},
          "encoding": {
            "x": {"field": "f1", "type": "quantitative", "title": null, "scale": {"type": "log", "domain": [1.0925, 4810], "nice": false}},
            "y": {"field": "a1", "type": "quantitative", "title": null, "scale": {"type": "log", "domain": [0.2012, 547.3], "nice": false}},
            "x2": {"field": "f2"},
            "y2": {"field": "a2"}
          }
        },
        {
          "data": {"name": "RBox"},
          "mark": {"type": "rect", "fill": "#ffffff", "stroke": "#000000", "strokeWidth": 2, "opacity": 1},
          "encoding": {
            "x": {"field": "f1", "type": "quantitative", "title": null, "scale": {"type": "log", "domain": [1.0925, 4810], "nice": false}},
            "y": {"field": "a1", "type": "quantitative", "title": null, "scale": {"type": "log", "domain": [0.2012, 547.3], "nice": false}},
            "x2": {"field": "f2"},
            "y2": {"field": "a2"}
          }
        },
        {
          "data": {"name": "RBoxText"},
          "mark": {"type": "text", "font": "Liberation Sans", "fontSize": 29, "align": "center", "baseline": "alphabetic", "color": "#000000"},
          "encoding": {
            "x": {"field": "f", "type": "quantitative", "title": null, "scale": {"type": "log", "domain": [1.0925, 4810], "nice": false}},
            "y": {"field": "a", "type": "quantitative", "title": null, "scale": {"type": "log", "domain": [0.2012, 547.3], "nice": false}},
            "text": {"field": "t"}
          }
        },
        {
          "data": {"name": "RCover"},
          "mark": {"type": "rect", "color": "#ffffff", "opacity": 1},
          "encoding": {
            "x": {"field": "f1", "type": "quantitative", "title": null, "scale": {"type": "log", "domain": [1.0925, 4810], "nice": false}},
            "y": {"field": "a1", "type": "quantitative", "title": null, "scale": {"type": "log", "domain": [0.2012, 547.3], "nice": false}},
            "x2": {"field": "f2"},
            "y2": {"field": "a2"}
          }
        },
        {
          "data": {"name": "RYTitle"},
          "mark": {"type": "text", "font": "Liberation Sans", "fontSize": 30, "angle": 270, "align": "center", "baseline": "alphabetic", "color": "#000000"},
          "encoding": {
            "x": {"field": "f", "type": "quantitative", "title": null, "scale": {"type": "log", "domain": [1.0925, 4810], "nice": false}},
            "y": {"field": "a", "type": "quantitative", "title": null, "scale": {"type": "log", "domain": [0.2012, 547.3], "nice": false}},
            "text": {"field": "t"}
          }
        },
        {
          "data": {"name": "RXTitle"},
          "mark": {"type": "text", "font": "Liberation Sans", "fontSize": 29, "align": "center", "baseline": "alphabetic", "color": "#000000"},
          "encoding": {
            "x": {"field": "f", "type": "quantitative", "title": null, "scale": {"type": "log", "domain": [1.0925, 4810], "nice": false}},
            "y": {"field": "a", "type": "quantitative", "title": null, "scale": {"type": "log", "domain": [0.2012, 547.3], "nice": false}},
            "text": {"field": "t"}
          }
        }
      ]
    }
  ],
  "resolve": {"scale": {"x": "independent", "y": "independent"}, "axis": {"x": "independent", "y": "independent"}}
}
